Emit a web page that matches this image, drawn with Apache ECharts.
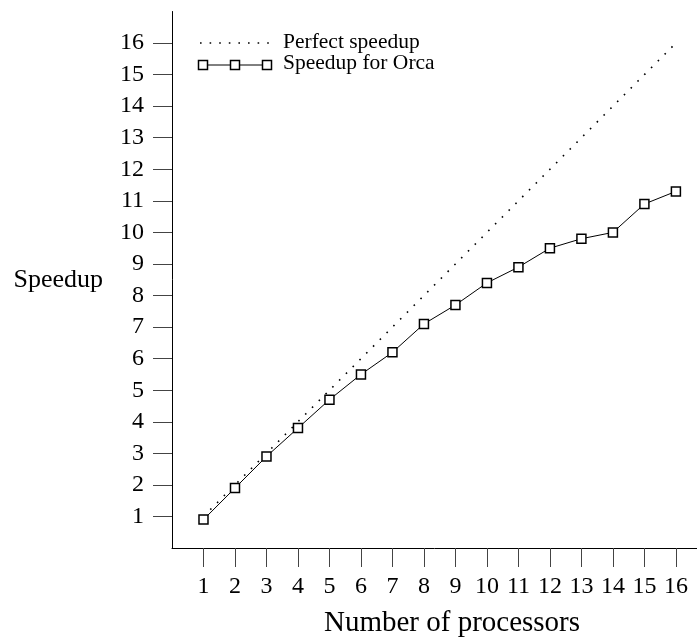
<!DOCTYPE html>
<html>
<head>
<meta charset="utf-8">
<script src="https://cdn.jsdelivr.net/npm/echarts@6/dist/echarts.min.js"></script>
<style>
  html, body { margin: 0; padding: 0; background: #fff; }
  #chart { width: 697px; height: 639px; }
</style>
</head>
<body>
<div id="chart"></div>
<script>
// ---- data ----
const processors = [1, 2, 3, 4, 5, 6, 7, 8, 9, 10, 11, 12, 13, 14, 15, 16];
const perfectSpeedup = [1, 2, 3, 4, 5, 6, 7, 8, 9, 10, 11, 12, 13, 14, 15, 16];
const orcaSpeedup = [0.9, 1.9, 2.9, 3.8, 4.7, 5.5, 6.2, 7.1, 7.7, 8.4, 8.9, 9.5, 9.8, 10.0, 10.9, 11.3];
const xTicks = [1, 2, 3, 4, 5, 6, 7, 8, 9, 10, 11, 12, 13, 14, 15, 16];
const yTicks = [1, 2, 3, 4, 5, 6, 7, 8, 9, 10, 11, 12, 13, 14, 15, 16];
const seriesNames = ['Perfect speedup', 'Speedup for Orca'];

const FONT = '"Liberation Serif", "DejaVu Serif", serif';
const chart = echarts.init(document.getElementById('chart'), null, { renderer: 'canvas' });

const perfectData = processors.map((p, i) => [p, perfectSpeedup[i]]);
const orcaData = processors.map((p, i) => [p, orcaSpeedup[i]]);

const option = {
  backgroundColor: '#fff',
  animation: false,
  grid: { left: 172, top: 11.5, bottom: 91, right: 0, containLabel: false, outerBoundsMode: 'none' },
  xAxis: {
    type: 'value', min: 0, max: 16.67,
    name: 'Number of processors', nameLocation: 'middle', nameGap: 61,
    nameTextStyle: { fontFamily: FONT, fontSize: 29, color: '#000', padding: [0, 0, 0, 35] },
    axisLine: { show: true, onZero: false, lineStyle: { color: '#000', width: 1 } },
    axisTick: { show: true, length: 19, customValues: xTicks, lineStyle: { color: '#444', width: 1 } },
    axisLabel: { customValues: xTicks, margin: 27, fontFamily: FONT, fontSize: 24, color: '#000' },
    splitLine: { show: false }
  },
  yAxis: {
    type: 'value', min: 0, max: 17, interval: 1,
    name: 'Speedup', nameLocation: 'middle', nameGap: 69, nameRotate: 0,
    nameTextStyle: { fontFamily: FONT, fontSize: 26, color: '#000', padding: [0, 0, 21, 0] },
    axisLine: { show: true, onZero: false, lineStyle: { color: '#000', width: 1 } },
    axisTick: { show: true, length: 19, customValues: yTicks, lineStyle: { color: '#444', width: 1 } },
    axisLabel: { customValues: yTicks, margin: 28, fontFamily: FONT, fontSize: 24, color: '#000' },
    splitLine: { show: false }
  },
  series: [
    {
      name: seriesNames[0], type: 'line', data: perfectData,
      symbol: 'none', silent: true,
      lineStyle: { color: '#000', width: 1.6, type: [1.6, 8], cap: 'butt' }
    },
    {
      name: seriesNames[1], type: 'line', data: orcaData,
      symbol: 'rect', symbolSize: 9, showAllSymbol: true,
      lineStyle: { color: '#000', width: 1 },
      itemStyle: { color: '#fff', borderColor: '#000', borderWidth: 1.5 },
      z: 3
    }
  ],
  graphic: [
    { type: 'line', shape: { x1: 200, y1: 43, x2: 272, y2: 43 },
      style: { stroke: '#000', lineWidth: 1.6, lineDash: [1.6, 8] } },
    { type: 'text', left: 283, top: 31,
      style: { text: seriesNames[0], font: '21.5px ' + FONT, fill: '#000' } },
    { type: 'line', shape: { x1: 203, y1: 65, x2: 267, y2: 65 },
      style: { stroke: '#000', lineWidth: 1 } },
    { type: 'rect', shape: { x: 198.5, y: 60.5, width: 9, height: 9 },
      style: { fill: '#fff', stroke: '#000', lineWidth: 1.5 } },
    { type: 'rect', shape: { x: 230.5, y: 60.5, width: 9, height: 9 },
      style: { fill: '#fff', stroke: '#000', lineWidth: 1.5 } },
    { type: 'rect', shape: { x: 262.5, y: 60.5, width: 9, height: 9 },
      style: { fill: '#fff', stroke: '#000', lineWidth: 1.5 } },
    { type: 'text', left: 283, top: 52,
      style: { text: seriesNames[1], font: '21.5px ' + FONT, fill: '#000' } }
  ]
};
chart.setOption(option);
</script>
</body>
</html>
